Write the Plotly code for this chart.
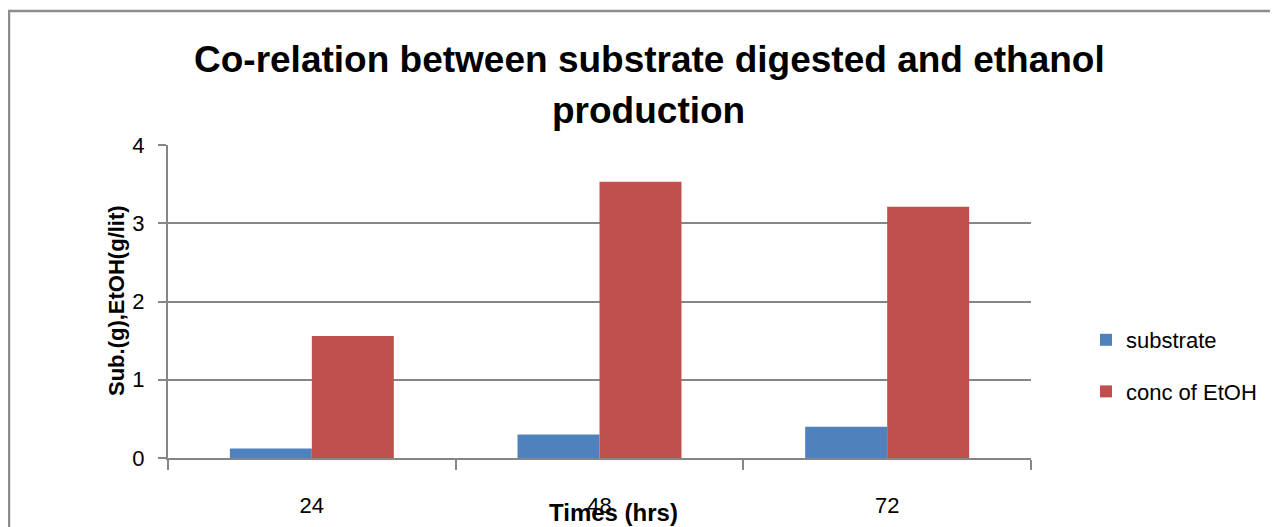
import plotly.graph_objects as go

times = ["24", "48", "72"]
substrate = [0.12, 0.30, 0.40]
etoh = [1.56, 3.53, 3.21]
y_ticks = [0, 1, 2, 3, 4]

# the page body adds an 8px margin, so work in reference pixels minus 8
OFF = 8
W, H = 1278 - OFF, 527 - OFF
L, T = 168 - OFF, 145 - OFF
R = W - (1031 - OFF)
B = H - (458 - OFF)
pw, ph = W - L - R, H - T - B

BLUE = "#4F81BD"
RED = "#C0504D"
GRID = "#868686"
FONT = "Liberation Sans"


def px_x(p):
    return (p - OFF - L) / pw


def px_y(p):
    return (H - B - (p - OFF)) / ph


fig = go.Figure()
fig.add_trace(go.Bar(x=times, y=substrate, name="substrate",
                     marker=dict(color=BLUE, line_width=0), legendgroup="a"))
fig.add_trace(go.Bar(x=times, y=etoh, name="conc of EtOH",
                     marker=dict(color=RED, line_width=0), legendgroup="b"))

fig.update_layout(
    width=W, height=H,
    margin=dict(l=L, r=R, t=T, b=B, autoexpand=False),
    paper_bgcolor="white", plot_bgcolor="white",
    font=dict(family=FONT, color="black", size=20),
    barmode="group", bargap=0.43, bargroupgap=0,
    legend=dict(x=px_x(1086), y=px_y(319), xanchor="left", yanchor="top",
                font=dict(family=FONT, size=22), tracegroupgap=20,
                itemwidth=30, bgcolor="rgba(0,0,0,0)"),
    shapes=[dict(type="rect", xref="paper", yref="paper",
                 x0=px_x(9), x1=px_x(1290), y0=px_y(11), y1=px_y(560),
                 line=dict(color="#8C8C8C", width=2.5))],
)

fig.add_annotation(text="<b>Co-relation between substrate digested and ethanol</b>",
                   xref="paper", yref="paper", x=px_x(649), y=px_y(60),
                   xanchor="center", yanchor="middle", showarrow=False,
                   font=dict(family=FONT, size=37, color="black"))
fig.add_annotation(text="<b>production</b>",
                   xref="paper", yref="paper", x=px_x(648), y=px_y(110),
                   xanchor="center", yanchor="middle", showarrow=False,
                   font=dict(family=FONT, size=37, color="black"))
fig.add_annotation(text="<b>Sub.(g),EtOH(g/lit)</b>", textangle=-90,
                   xref="paper", yref="paper", x=px_x(116), y=px_y(301),
                   xanchor="center", yanchor="middle", showarrow=False,
                   font=dict(family=FONT, size=22, color="black"))
fig.add_annotation(text="<b>Times (hrs)</b>",
                   xref="paper", yref="paper", x=px_x(613), y=px_y(512),
                   xanchor="center", yanchor="middle", showarrow=False,
                   font=dict(family=FONT, size=24, color="black"))

fig.update_xaxes(
    type="category", tickson="boundaries", ticks="outside", ticklen=10,
    tickcolor=GRID, tickwidth=1.5, showline=True, linecolor=GRID, linewidth=2,
    showgrid=False, ticklabelstandoff=27, tickfont=dict(size=22),
    automargin=False,
)
fig.update_yaxes(
    range=[0, 4], tickvals=y_ticks, ticks="outside", ticklen=8,
    tickcolor=GRID, tickwidth=1.5, showline=True, linecolor=GRID, linewidth=2,
    showgrid=True, gridcolor=GRID, gridwidth=1.5, zeroline=False,
    ticklabelstandoff=9, tickfont=dict(size=22), automargin=False,
)

fig.write_html("out.html")
